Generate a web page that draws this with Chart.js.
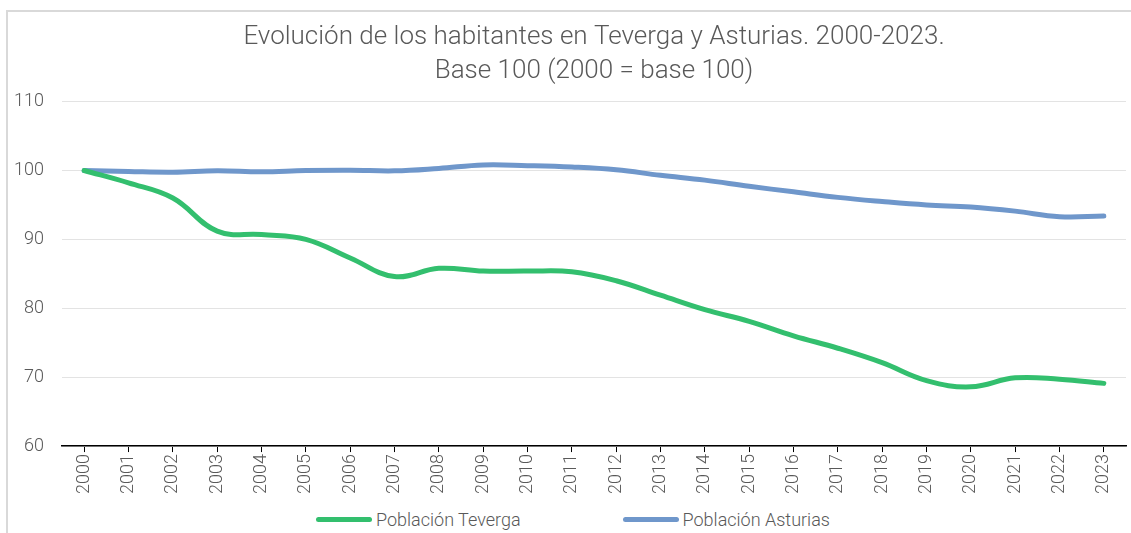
<!DOCTYPE html>
<html>
<head>
<meta charset="utf-8">
<script src="https://cdn.jsdelivr.net/npm/chart.js@4"></script>
<style>
  html, body { margin: 0; padding: 0; background: #fff; overflow: hidden; }
  #frame {
    position: absolute; left: 6px; top: 10px;
    width: 1125px; height: 523px;
    border-left: 2px solid #d9d9d9; border-top: 2px solid #d9d9d9;
  }
  #wrap { position: relative; width: 1123px; height: 484px; }
  #legend {
    position: absolute; left: 316px; top: 509px;
    display: flex; gap: 102px; align-items: center;
    font-family: Roboto, sans-serif; font-weight: 300; font-size: 18px; color: #595959;
  }
  .item { display: flex; align-items: center; gap: 4px; }
  .swatch { width: 56px; height: 5px; border-radius: 3px; }
</style>
</head>
<body>
<div id="frame"><div id="wrap"><canvas id="chart"></canvas></div></div>
<div id="legend"></div>
<script>
// Data
const years = ['2000','2001','2002','2003','2004','2005','2006','2007','2008','2009','2010','2011',
               '2012','2013','2014','2015','2016','2017','2018','2019','2020','2021','2022','2023'];
const teverga = [100, 98.2, 96.0, 91.2, 90.7, 90.0, 87.3, 84.6, 85.8, 85.4, 85.4, 85.3,
                 84.0, 81.9, 79.8, 78.1, 76.0, 74.2, 72.1, 69.5, 68.6, 69.9, 69.7, 69.1];
const asturias = [100, 99.85, 99.75, 99.95, 99.8, 100, 100.05, 99.95, 100.3, 100.8, 100.7, 100.5,
                  100.1, 99.3, 98.6, 97.7, 96.9, 96.1, 95.5, 95.0, 94.7, 94.1, 93.3, 93.4];
const yTicks = [60, 70, 80, 90, 100, 110];

const fontFamily = "Roboto, sans-serif";
const textColor = '#595959';

const chart = new Chart(document.getElementById('chart'), {
    type: 'line',
    data: {
        labels: years,
        datasets: [{
            label: 'Población Teverga',
            data: teverga,
            borderColor: '#33bf6e',
            backgroundColor: '#33bf6e',
            borderWidth: 5,
            tension: 0.4,
            pointRadius: 0,
            borderCapStyle: 'round'
        }, {
            label: 'Población Asturias',
            data: asturias,
            borderColor: '#6f97cb',
            backgroundColor: '#6f97cb',
            borderWidth: 5,
            tension: 0.4,
            pointRadius: 0,
            borderCapStyle: 'round'
        }]
    },
    options: {
        responsive: true,
        maintainAspectRatio: false,
        animation: false,
        layout: { padding: { left: 0, right: 5, top: 0, bottom: 0 } },
        scales: {
            x: {
                offset: true,
                afterFit: axis => { axis.paddingLeft = 0; axis.paddingRight = 0; },
                grid: { offset: false, drawOnChartArea: false, drawTicks: true, tickLength: 6, color: '#000' },
                border: { display: true, color: '#000', width: 1.5 },
                ticks: {
                    minRotation: 90, maxRotation: 90, autoSkip: false, padding: 2,
                    color: textColor, font: { family: fontFamily, size: 18, weight: 300 }
                }
            },
            y: {
                min: 60, max: 110,
                afterBuildTicks: axis => { axis.ticks = yTicks.map(v => ({ value: v })); },
                afterFit: axis => { axis.width = 54; },
                grid: { color: '#e3e3e3', drawTicks: false },
                border: { display: false },
                ticks: { padding: 18, color: textColor, font: { family: fontFamily, size: 18, weight: 300 } }
            }
        },
        plugins: {
            title: {
                display: true,
                fullSize: false,
                text: ['Evolución de los habitantes en Teverga y Asturias. 2000-2023.', 'Base 100 (2000 = base 100)'],
                color: textColor,
                font: { family: fontFamily, size: 26, weight: 300, lineHeight: 1.3 },
                padding: { top: 9, bottom: 13 }
            },
            legend: { display: false },
            tooltip: { enabled: false }
        }
    }
});

// Legend built from the chart's datasets
const legendEl = document.getElementById('legend');
chart.data.datasets.forEach(ds => {
    const item = document.createElement('div');
    item.className = 'item';
    const swatch = document.createElement('span');
    swatch.className = 'swatch';
    swatch.style.background = ds.borderColor;
    const label = document.createElement('span');
    label.textContent = ds.label;
    item.appendChild(swatch);
    item.appendChild(label);
    legendEl.appendChild(item);
});
</script>
</body>
</html>
